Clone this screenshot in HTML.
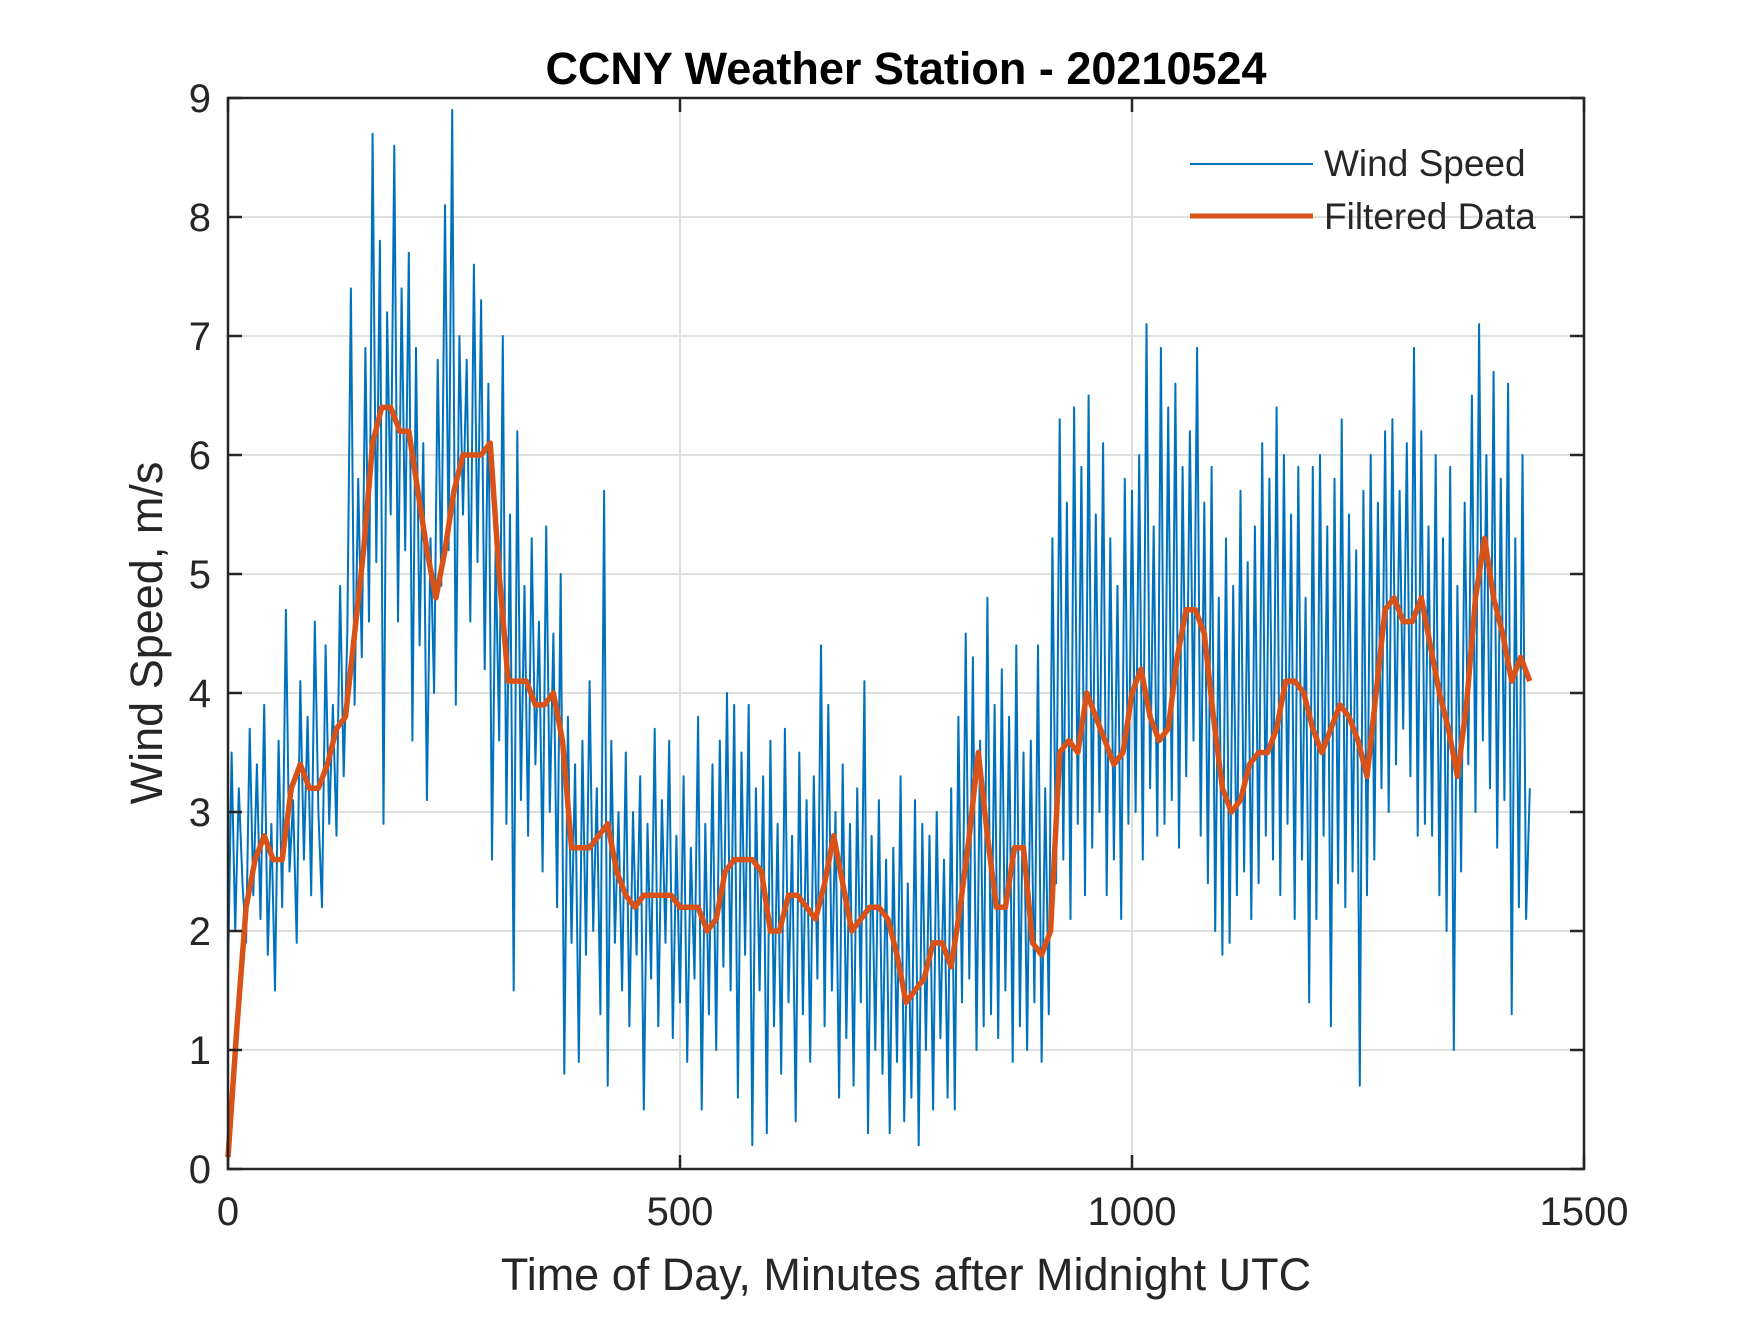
<!DOCTYPE html>
<html><head><meta charset="utf-8"><style>
html,body{margin:0;padding:0;background:#fff;}
svg text{font-family:"Liberation Sans",Arial,sans-serif;fill:#262626;}
</style></head><body>
<svg id="chart" width="1750" height="1313" xmlns="http://www.w3.org/2000/svg">
<rect width="1750" height="1313" fill="#fff"/>
<g id="grid"></g>
<g id="series"></g>
<rect x="228" y="98" width="1356" height="1071" fill="none" stroke="#262626" stroke-width="2.5"/>
<g id="ticks"></g>
<text x="906" y="84" text-anchor="middle" font-size="45" font-weight="bold" style="fill:#000">CCNY Weather Station - 20210524</text>
<text x="906" y="1290" text-anchor="middle" font-size="45">Time of Day, Minutes after Midnight UTC</text>
<text transform="translate(162,633) rotate(-90)" text-anchor="middle" font-size="45">Wind Speed, m/s</text>
<g>
<line x1="1190" y1="164" x2="1313" y2="164" stroke="#0072BD" stroke-width="2"/>
<text x="1324" y="176" font-size="37">Wind Speed</text>
<line x1="1190" y1="216" x2="1313" y2="216" stroke="#D95319" stroke-width="5"/>
<text x="1324" y="229" font-size="37">Filtered Data</text>
</g>
</svg>
<script>
const rawStep = 4;
const rawValues = [
1.6,3.5,2.0,3.2,2.4,1.9,3.7,2.3,3.4,2.1,
3.9,1.8,2.9,1.5,3.6,2.2,4.7,2.5,3.1,1.9,
4.1,2.6,3.8,2.3,4.6,3.0,2.2,4.4,2.9,3.9,
2.8,4.9,3.3,4.5,7.4,3.9,5.8,4.3,6.9,4.6,
8.7,5.1,7.8,2.9,7.2,5.5,8.6,4.6,7.4,5.2,
7.7,3.6,6.9,4.4,6.1,3.1,5.3,4.0,6.8,4.9,
8.1,5.2,8.9,3.9,7.0,5.5,6.8,4.6,7.6,5.1,
7.3,4.2,6.6,2.6,5.2,3.6,7.0,2.9,5.5,1.5,
6.2,3.1,4.9,2.8,5.3,3.4,4.6,2.5,5.4,3.0,
4.5,2.2,5.0,0.8,3.8,1.9,3.4,0.9,3.6,1.8,
4.1,2.0,3.2,1.3,5.7,0.7,3.6,1.9,3.0,1.5,
3.5,1.2,3.0,1.8,3.3,0.5,2.9,1.6,3.7,1.2,
3.1,1.9,3.6,1.1,2.8,1.4,3.3,0.9,2.7,1.6,
3.8,0.5,2.9,1.3,3.4,1.0,3.6,1.7,4.0,1.5,
3.9,0.6,3.5,1.8,3.9,0.2,3.2,1.5,3.3,0.3,
3.6,1.2,2.9,0.8,3.7,1.4,2.8,0.4,3.5,1.3,
3.1,0.9,3.3,1.6,4.4,1.2,3.9,1.5,3.0,0.6,
3.4,1.1,2.9,0.7,3.2,1.4,4.1,0.3,2.8,1.0,
3.1,0.8,2.6,0.3,2.7,0.9,3.3,0.4,2.4,0.6,
3.1,0.2,2.9,1.0,2.8,0.5,3.0,1.1,2.6,0.6,
3.2,0.5,3.8,1.4,4.5,1.6,4.3,1.0,3.6,1.2,
4.8,1.3,3.9,1.1,4.2,1.5,3.8,0.9,4.4,1.2,
3.5,1.0,3.6,1.4,4.4,0.9,3.2,1.3,5.3,2.4,
6.3,2.6,5.6,2.1,6.4,2.9,5.9,2.3,6.5,2.7,
5.5,3.0,6.1,2.3,5.3,2.6,4.9,2.1,5.8,2.9,
5.7,3.0,6.0,2.6,7.1,3.2,5.4,2.8,6.9,2.9,
6.4,3.1,6.6,2.7,5.9,3.3,6.2,3.6,6.9,2.8,
5.6,2.4,5.9,2.0,4.8,1.8,5.3,1.9,4.9,2.3,
5.7,2.5,5.1,2.1,5.4,2.4,6.1,2.8,5.8,2.6,
6.4,2.3,6.0,2.9,5.5,2.1,5.9,2.6,4.8,1.4,
5.9,2.1,6.0,2.8,5.4,1.2,5.8,2.4,6.3,2.2,
5.5,2.5,5.2,0.7,5.7,2.3,6.0,2.6,5.6,3.2,
6.2,3.0,6.3,3.4,5.7,3.7,6.1,3.3,6.9,2.8,
6.2,2.9,5.4,2.8,6.0,2.3,5.3,2.0,5.9,1.0,
4.9,2.5,5.6,3.4,6.5,3.0,7.1,3.6,6.0,3.2,
6.7,2.7,5.8,3.1,6.6,1.3,5.3,2.2,6.0,2.1,
3.2];
const filtStep = 10;
const filteredValues = [
0.1,1.2,2.2,2.6,2.8,2.6,2.6,3.2,3.4,3.2,3.2,3.4,3.7,3.8,4.5,5.2,6.1,6.4,6.4,6.2,
6.2,5.7,5.2,4.8,5.2,5.7,6.0,6.0,6.0,6.1,5.0,4.1,4.1,4.1,3.9,3.9,4.0,3.6,2.7,2.7,
2.7,2.8,2.9,2.5,2.3,2.2,2.3,2.3,2.3,2.3,2.2,2.2,2.2,2.0,2.1,2.5,2.6,2.6,2.6,2.5,
2.0,2.0,2.3,2.3,2.2,2.1,2.4,2.8,2.4,2.0,2.1,2.2,2.2,2.1,1.8,1.4,1.5,1.6,1.9,1.9,
1.7,2.2,2.8,3.5,2.8,2.2,2.2,2.7,2.7,1.9,1.8,2.0,3.5,3.6,3.5,4.0,3.8,3.6,3.4,3.5,
4.0,4.2,3.8,3.6,3.7,4.3,4.7,4.7,4.5,3.8,3.2,3.0,3.1,3.4,3.5,3.5,3.7,4.1,4.1,4.0,
3.7,3.5,3.7,3.9,3.8,3.6,3.3,4.0,4.7,4.8,4.6,4.6,4.8,4.4,4.0,3.7,3.3,3.9,4.8,5.3,
4.8,4.5,4.1,4.3,4.1];
const xTicks = [0,500,1000,1500];
const yTicks = [0,1,2,3,4,5,6,7,8,9];

const X0=228,X1=1584,Y0=1169,Y1=98;
const xs = v => X0 + (v/1500)*(X1-X0);
const ys = v => Y0 - (v/9)*(Y0-Y1);
const NS="http://www.w3.org/2000/svg";
const mk=(t,a,p)=>{const e=document.createElementNS(NS,t);for(const k in a)e.setAttribute(k,a[k]);p.appendChild(e);return e;};
const grid=document.getElementById('grid'), ticks=document.getElementById('ticks'), ser=document.getElementById('series');

yTicks.forEach(v=>{
  if(v>0&&v<9){const g=mk('line',{x1:X0,x2:X1,y1:ys(v),y2:ys(v),stroke:'#dfdfdf','stroke-width':2},grid);
  
  }
  const t1=mk('line',{x1:X0,x2:X0+14,y1:ys(v),y2:ys(v),stroke:'#262626','stroke-width':2.5},ticks);
  
  
  const t2=mk('line',{x1:X1-14,x2:X1,y1:ys(v),y2:ys(v),stroke:'#262626','stroke-width':2.5},ticks);
  
  
  const l=mk('text',{x:X0-17,y:ys(v)+14,'text-anchor':'end','font-size':40},ticks);
  l.textContent=v;
  
  
});
xTicks.forEach(v=>{
  if(v>0&&v<1500){const g=mk('line',{x1:xs(v),x2:xs(v),y1:Y0,y2:Y1,stroke:'#dfdfdf','stroke-width':2},grid);
  
  }
  const t1=mk('line',{x1:xs(v),x2:xs(v),y1:Y0,y2:Y0-14,stroke:'#262626','stroke-width':2.5},ticks);
  
  
  const t2=mk('line',{x1:xs(v),x2:xs(v),y1:Y1,y2:Y1+14,stroke:'#262626','stroke-width':2.5},ticks);
  
  
  const l=mk('text',{x:xs(v),y:Y0+56,'text-anchor':'middle','font-size':40},ticks);
  l.textContent=v;
  
  
});
const rawPts=rawValues.map((v,i)=>xs(i*rawStep).toFixed(1)+','+ys(v).toFixed(1)).join(' ');
const raw=mk('polyline',{points:rawPts,fill:'none',stroke:'#0072BD','stroke-width':2,'stroke-linejoin':'round'},ser);


const fPts=filteredValues.map((v,i)=>xs(i*filtStep).toFixed(1)+','+ys(v).toFixed(1)).join(' ');
const f=mk('polyline',{points:fPts,fill:'none',stroke:'#D95319','stroke-width':5.5,'stroke-linejoin':'round'},ser);


</script>
</body></html>
